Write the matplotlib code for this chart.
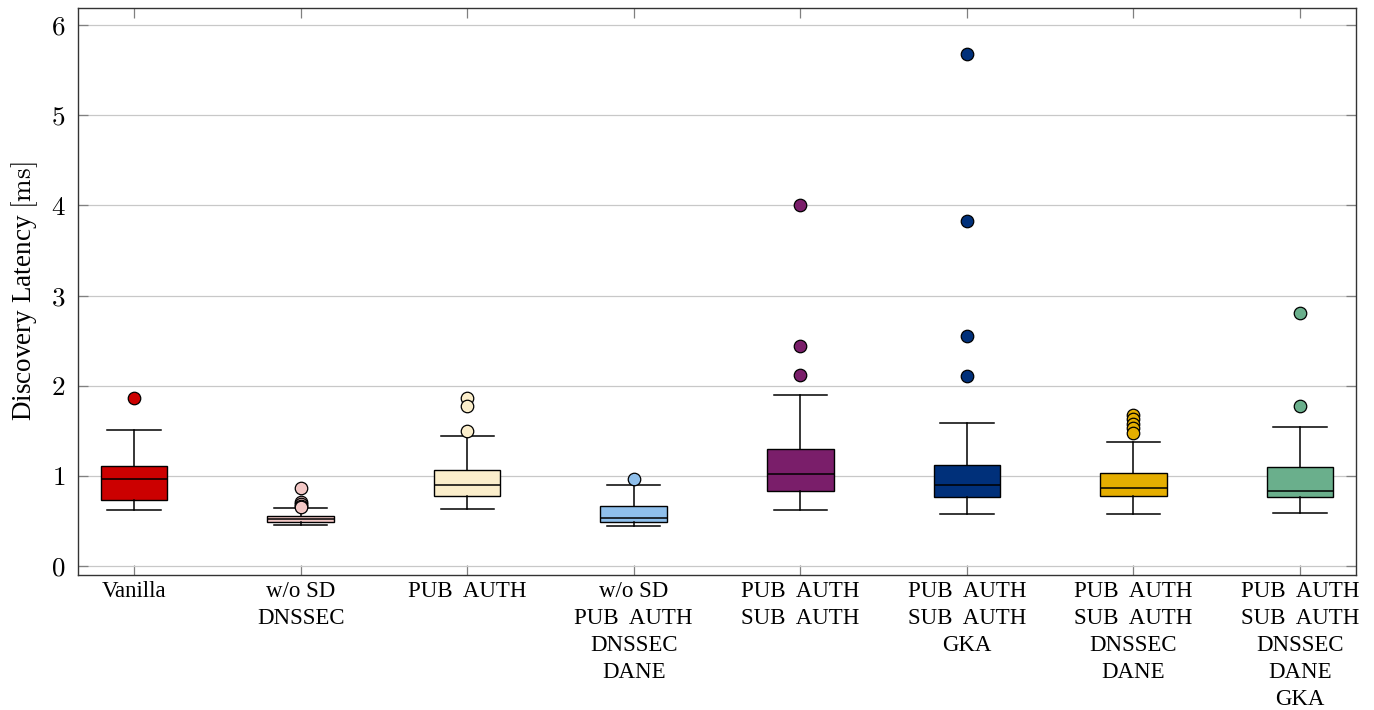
"""Discovery latency box plots per security configuration."""

import matplotlib

matplotlib.use("Agg")
import matplotlib.pyplot as plt

plt.rcParams["font.family"] = "serif"
plt.rcParams["font.serif"] = ["Liberation Serif", "Times New Roman", "DejaVu Serif"]
plt.rcParams["mathtext.fontset"] = "cm"

CATEGORIES = [
    "Vanilla",
    "w/o SD\nDNSSEC",
    "PUB  AUTH",
    "w/o SD\nPUB  AUTH\nDNSSEC\nDANE",
    "PUB  AUTH\nSUB  AUTH",
    "PUB  AUTH\nSUB  AUTH\nGKA",
    "PUB  AUTH\nSUB  AUTH\nDNSSEC\nDANE",
    "PUB  AUTH\nSUB  AUTH\nDNSSEC\nDANE\nGKA",
]

# box statistics (ms)
WHISKER_LOW = [0.617, 0.451, 0.628, 0.447, 0.617, 0.573, 0.580, 0.584]
Q1 = [0.732, 0.485, 0.776, 0.492, 0.828, 0.762, 0.773, 0.762]
MEDIAN = [0.965, 0.518, 0.895, 0.529, 1.020, 0.898, 0.861, 0.835]
Q3 = [1.112, 0.551, 1.065, 0.662, 1.298, 1.117, 1.035, 1.098]
WHISKER_HIGH = [1.508, 0.647, 1.438, 0.898, 1.893, 1.590, 1.379, 1.545]
OUTLIERS = [
    [1.86],
    [0.87, 0.71, 0.69, 0.67, 0.66],
    [1.867, 1.778, 1.50],
    [0.961],
    [4.007, 2.443, 2.122],
    [5.678, 3.83, 2.547, 2.104],
    [1.68, 1.63, 1.58, 1.53, 1.48],
    [2.806, 1.771],
]

COLORS = [
    "#CC0000",
    "#F3C8C6",
    "#FBEECB",
    "#8FBFEB",
    "#7A1E6A",
    "#00307A",
    "#E5AE00",
    "#6AAF8C",
]

Y_TICKS = [0, 1, 2, 3, 4, 5, 6]


def main() -> None:
    fig = plt.figure(figsize=(13.74, 7.10), dpi=100)
    ax = fig.add_axes([0.0568, 0.1901, 0.9301, 0.7986])

    positions = list(range(1, len(CATEGORIES) + 1))
    stats = []
    for i in range(len(CATEGORIES)):
        stats.append(
            {
                "whislo": WHISKER_LOW[i],
                "q1": Q1[i],
                "med": MEDIAN[i],
                "q3": Q3[i],
                "whishi": WHISKER_HIGH[i],
                "fliers": OUTLIERS[i],
            }
        )

    ax.set_axisbelow(True)
    ax.grid(True, axis="y", color="#c8c8c8", linewidth=0.9)

    for i, st in enumerate(stats):
        ax.bxp(
            [st],
            positions=[positions[i]],
            widths=0.40,
            capwidths=0.32,
            patch_artist=True,
            boxprops=dict(facecolor=COLORS[i], edgecolor="black", linewidth=1.0),
            medianprops=dict(color="black", linewidth=1.1),
            whiskerprops=dict(color="black", linewidth=1.1),
            capprops=dict(color="black", linewidth=1.1),
            flierprops=dict(
                marker="o",
                markersize=9,
                markerfacecolor=COLORS[i],
                markeredgecolor="black",
                markeredgewidth=0.9,
                linestyle="none",
            ),
            zorder=3,
        )

    ax.set_xlim(0.664, 8.336)
    ax.set_ylim(-0.1, 6.19)
    ax.set_xticks(positions)
    ax.set_xticklabels(CATEGORIES, fontsize=16.5, linespacing=1.38)
    ax.set_yticks(Y_TICKS)
    ax.set_yticklabels([f"${v}$" for v in Y_TICKS], fontsize=19.5)
    ax.tick_params(axis="both", direction="in", length=7, color="#808080",
                   top=True, right=True, width=0.9)
    ax.tick_params(axis="x", pad=4)
    ax.tick_params(axis="y", pad=9)
    ax.set_ylabel(r"Discovery Latency $[\mathrm{ms}]$", fontsize=19.5, labelpad=8)

    for spine in ax.spines.values():
        spine.set_color("#333333")
        spine.set_linewidth(1.0)

    fig.savefig("out.png", dpi=100)
    plt.close(fig)


if __name__ == "__main__":
    main()
